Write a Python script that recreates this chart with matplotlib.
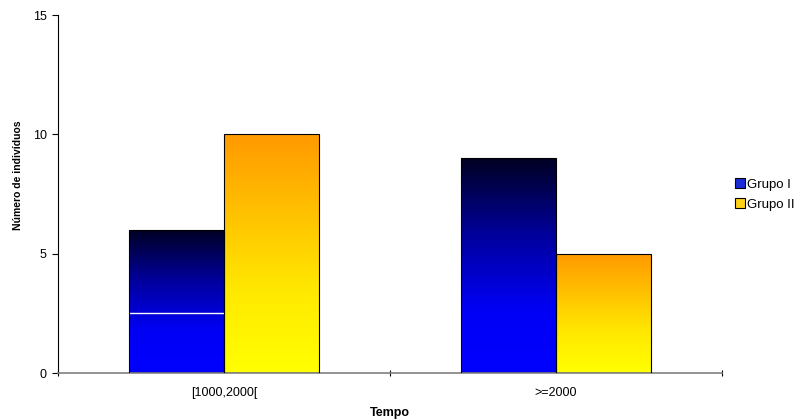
import numpy as np
import matplotlib
matplotlib.use("Agg")
from matplotlib import pyplot as plt
from matplotlib.colors import LinearSegmentedColormap
from matplotlib.patches import Patch

plt.rcParams['font.family'] = ['Liberation Sans', 'DejaVu Sans']

categorias = ['[1000,2000[', '>=2000']
grupo_1 = [6, 9]
grupo_2 = [10, 5]
series = ['Grupo I', 'Grupo II']

# gradients from bottom (0) to top (1), like the Excel fill
cmap_1 = LinearSegmentedColormap.from_list('g1', [(0.0, '#0000ff'), (0.3, '#0000f5'),
                                                 (0.65, '#00009a'), (1.0, '#000022')])
cmap_2 = LinearSegmentedColormap.from_list('g2', [(0.0, '#ffff00'), (0.35, '#ffe800'),
                                                 (1.0, '#ff9900')])

fig = plt.figure(figsize=(7.95, 4.19), dpi=100)
ax = fig.add_axes([58 / 795, 1 - 373 / 419, 664 / 795, 358 / 419])

x = np.arange(len(categorias))
w = 0.286
grad = np.linspace(0, 1, 256).reshape(-1, 1)

bar_sets = []
for vals, off, cmap in [(grupo_1, -w / 2, cmap_1), (grupo_2, w / 2, cmap_2)]:
    bars = ax.bar(x + off, vals, w, facecolor='none', edgecolor='black', linewidth=0.8, zorder=3)
    bar_sets.append(bars)
    for b in bars:
        x0, y0 = b.get_x(), b.get_y()
        im = ax.imshow(grad, cmap=cmap, origin='lower', aspect='auto', zorder=2,
                       extent=[x0, x0 + b.get_width(), y0, y0 + b.get_height()])
        im.set_clip_path(b)

# thin white streak seen inside the first blue bar
b = bar_sets[0][0]
ax.hlines(2.5, b.get_x(), b.get_x() + b.get_width(), color='white', linewidth=1, zorder=2.5)

ax.set_xlim(-0.5, 1.5)
ax.set_ylim(0, 15)
ax.set_yticks([0, 5, 10, 15])
ax.set_xticks([-0.5, 0.5, 1.5])
ax.set_xticklabels([])
ax.set_xticks(x, minor=True)
ax.set_xticklabels(categorias, minor=True)
ax.tick_params(axis='x', which='minor', length=0, pad=10, labelsize=9)
ax.tick_params(axis='x', which='major', length=4, direction='inout', color='black')
ax.tick_params(axis='y', length=4, labelsize=9, pad=4)

for s in ['top', 'right']:
    ax.spines[s].set_visible(False)
ax.spines['left'].set_color('black')
ax.spines['left'].set_linewidth(0.8)
ax.spines['bottom'].set_color('#808080')
ax.spines['bottom'].set_linewidth(1.2)

ax.set_ylabel('Número de indivíduos', fontsize=7.5, fontweight='bold', va='center')
ax.yaxis.set_label_coords(-0.060, 0.553)
ax.set_xlabel('Tempo', fontsize=9, fontweight='bold', labelpad=6)

handles = [Patch(facecolor='#1a2bd8', edgecolor='black', linewidth=0.8),
           Patch(facecolor='#ffd21a', edgecolor='black', linewidth=0.8)]
fig.legend(handles, series, loc='center left', bbox_to_anchor=(735 / 795, 1 - 194.5 / 419),
           frameon=False, fontsize=9.5, handlelength=0.75, handleheight=0.75,
           handletextpad=0.15, labelspacing=0.55, borderaxespad=0, borderpad=0)

fig.savefig('out.png', dpi=100)
